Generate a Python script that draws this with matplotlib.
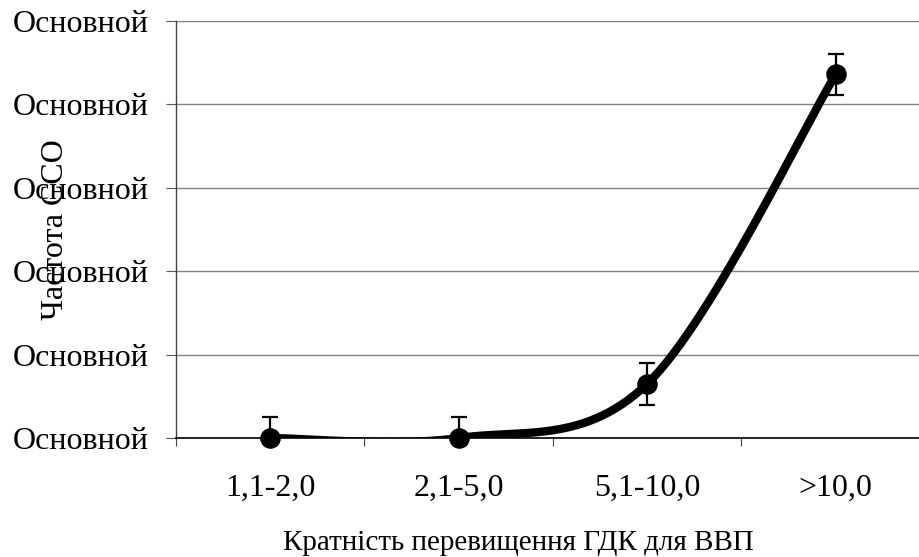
import numpy as np
import matplotlib
matplotlib.use("Agg")
import matplotlib.pyplot as plt

categories = ["1,1-2,0", "2,1-5,0", "5,1-10,0", ">10,0"]
values = [0.0, 0.0, 0.65, 4.36]
errors = [0.25, 0.25, 0.25, 0.25]
ytick_values = [0, 1, 2, 3, 4, 5]
ytick_labels = ["Основной"] * 6
ylabel = "Частота ССО"
xlabel = "Кратність перевищення ГДК для ВВП"

plt.rcParams['font.family'] = ['Liberation Serif', 'DejaVu Serif']

fig = plt.figure(figsize=(9.2, 5.57), dpi=100)
ax = fig.add_axes([176/920, 119/557, 754/920, 417/557])

x = np.arange(1, len(values) + 1, dtype=float)
y = np.array(values, dtype=float)

# smoothed line (Catmull-Rom / Bezier like spreadsheet smoothing)
px = np.concatenate([[x[0]], x, [x[-1]]])
py = np.concatenate([[y[0]], y, [y[-1]]])
cx, cy = [], []
t = np.linspace(0, 1, 60)
for i in range(1, len(px) - 2):
    p0 = np.array([px[i], py[i]])
    p3 = np.array([px[i+1], py[i+1]])
    p1 = p0 + (np.array([px[i+1], py[i+1]]) - np.array([px[i-1], py[i-1]])) / 6
    p2 = p3 - (np.array([px[i+2], py[i+2]]) - np.array([px[i], py[i]])) / 6
    b = ((1-t)**3)[:, None]*p0 + (3*(1-t)**2*t)[:, None]*p1 + (3*(1-t)*t**2)[:, None]*p2 + (t**3)[:, None]*p3
    cx.extend(b[:, 0]); cy.extend(b[:, 1])

ax.errorbar(x, y, yerr=errors, fmt='none', ecolor='black', elinewidth=1.6,
            capsize=6, capthick=1.6, zorder=3)
ax.plot(cx, cy, color='black', lw=6.0, solid_capstyle='round', zorder=4)
ax.plot(x, y, 'o', color='black', ms=13.8, zorder=5, clip_on=False)

ax.set_xlim(0.5, 4.5)
ax.set_ylim(0, 5)
ax.set_yticks(ytick_values)
ax.set_yticklabels(ytick_labels, fontsize=23)
ax.set_xticks(x)
ax.set_xticklabels(categories, fontsize=23)
ax.set_xticks(np.arange(0.5, 4.6, 1.0), minor=True)
ax.tick_params(axis='x', which='major', length=0, pad=26)
ax.tick_params(axis='x', which='minor', length=6, width=0.8, color='#444444', direction='out')
ax.tick_params(axis='y', length=7, width=0.8, color='#555555', pad=13)

ax.grid(axis='y', color='#808080', lw=1.0)
ax.set_axisbelow(True)
for s in ['top', 'right']:
    ax.spines[s].set_visible(False)
ax.spines['left'].set_color('#444444')
ax.spines['left'].set_linewidth(1.0)
ax.spines['bottom'].set_color('black')
ax.spines['bottom'].set_linewidth(1.2)

ax.set_ylabel(ylabel, fontsize=23)
ax.yaxis.set_label_coords(-0.14, 0.5)
fig.text(518/920, (557-543)/557, xlabel, fontsize=21, ha='center', va='center')

fig.savefig("out.png", dpi=100)
